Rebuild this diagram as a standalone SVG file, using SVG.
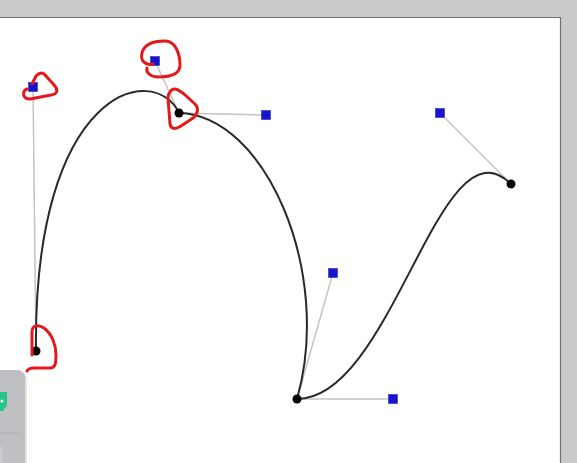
<svg xmlns="http://www.w3.org/2000/svg" width="577" height="463" viewBox="0 0 577 463">
<style>
.handle{stroke:#c4c4c4;stroke-width:1.5;fill:none}
.curve{stroke:#2a2a2a;stroke-width:2;fill:none}
.ctrl{fill:#1414d2;stroke:#3030a0;stroke-width:0.6}
.anchor{fill:#000}
.mark{stroke:#e3191c;stroke-width:3;fill:none;stroke-linecap:round;stroke-linejoin:round}
</style>
<rect x="0" y="0" width="577" height="463" fill="#cbcbcd"/>
<rect x="0" y="18" width="560" height="445" fill="#ffffff"/>
<path d="M0,17.5 H560.5 V463" fill="none" stroke="#707070" stroke-width="1.2"/>
<g id="connectors">
<line class="handle" x1="36" y1="351" x2="33" y2="87"/>
<line class="handle" x1="179" y1="113" x2="155" y2="61"/>
<line class="handle" x1="179" y1="113" x2="266" y2="115"/>
<line class="handle" x1="297" y1="399" x2="333" y2="273"/>
<line class="handle" x1="297" y1="399" x2="393" y2="399"/>
<line class="handle" x1="511" y1="184" x2="440" y2="113"/>
<path class="curve" d="M36,351 C33,87 155,61 179,113 C266,115 333,273 297,399 C393,399 440,113 511,184"/>
</g>
<g id="p0"><circle class="anchor" cx="36" cy="351" r="4.5"/></g>
<g id="p1"><circle class="anchor" cx="179" cy="113" r="4.5"/></g>
<g id="p2"><circle class="anchor" cx="297" cy="399" r="4.5"/></g>
<g id="p3"><circle class="anchor" cx="511" cy="184" r="4.5"/></g>
<g id="c0"><rect class="ctrl" x="28.5" y="82.5" width="9" height="9"/></g>
<g id="c1a"><rect class="ctrl" x="150.5" y="56.5" width="9" height="9"/></g>
<g id="c1b"><rect class="ctrl" x="261.5" y="110.5" width="9" height="9"/></g>
<g id="c2a"><rect class="ctrl" x="328.5" y="268.5" width="9" height="9"/></g>
<g id="c2b"><rect class="ctrl" x="388.5" y="394.5" width="9" height="9"/></g>
<g id="c3"><rect class="ctrl" x="435.5" y="108.5" width="9" height="9"/></g>
<g id="marks">
<path class="mark" d="M27,89 C22,91 22,99 30,99 L51,95 C58,94 58,90 55,86 L46,76 C43,72 40,72 36,76 L32,84"/>
<path class="mark" d="M153,64 C145,66 140,60 142,53 C144,45 152,41 165,41 C176,41 180,55 180,65 C180,74 170,77 158,77 C150,77 146,72 147,68"/>
<path class="mark" d="M170,92 C173,87 178,89 184,94 L195,104 C199,108 198,114 193,118 L181,126 C176,129 171,130 170,124 L168,98 C168,95 168,94 170,92 Z"/>
<path class="mark" d="M32,355 L32,332 C32,325 38,324 44,328 C52,334 56,345 56,355 C56,364 55,368 50,368 L34,368 C30,368 28,369 27,371"/>
</g>
<g id="widget">
<rect x="-12" y="370" width="39" height="105" rx="9" fill="#e4e4e6"/>
<rect x="-12" y="370" width="37" height="105" rx="8" fill="#bebfc3"/>
<path d="M0,392 H7 V405 L3,411 H0 Z" fill="#22c785"/>
<circle cx="2" cy="401" r="1.5" fill="#ffffff"/>
<line x1="0" y1="433" x2="20" y2="433" stroke="#aeb0b5" stroke-width="1"/>
<rect x="-6" y="446" width="9" height="20" rx="3" fill="#c9cace"/>
</g>
</svg>
